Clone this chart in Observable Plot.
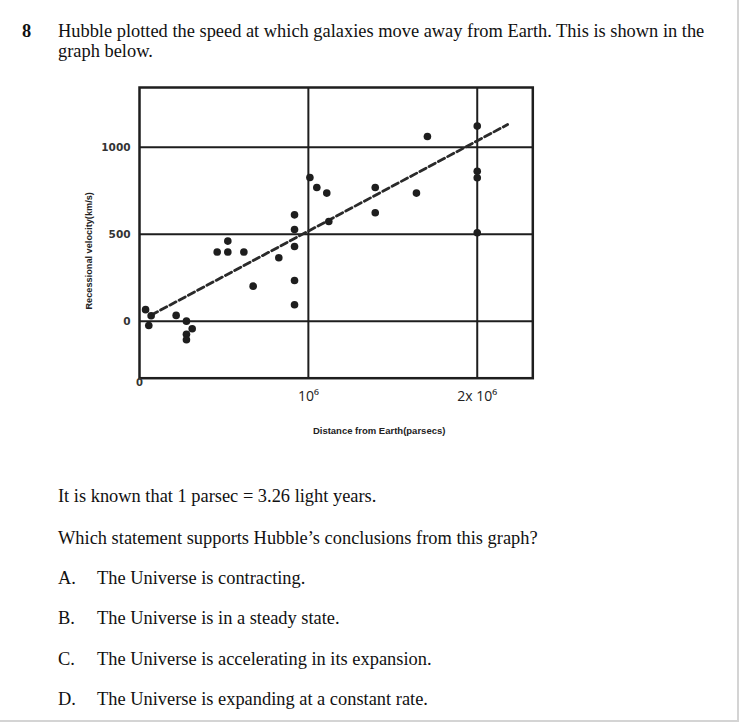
<!DOCTYPE html>
<html>
<head>
<meta charset="utf-8">
<script src="https://cdn.jsdelivr.net/npm/d3@7"></script>
<script src="https://cdn.jsdelivr.net/npm/@observablehq/plot@0.6"></script>
<style>
  html, body { margin: 0; padding: 0; background: #fff; }
  body { width: 740px; height: 723px; position: relative; overflow: hidden; font-family: "Liberation Serif", "Times New Roman", serif; color: #111; }
  .t { position: absolute; font-size: 18.4px; line-height: 20px; white-space: nowrap; }
  #chart { position: absolute; left: 0; top: 60px; }
  #edgeR { position: absolute; left: 737px; top: 0; width: 2px; height: 722px; background: #d4d4d4; }
  #edgeB { position: absolute; left: 0; top: 720px; width: 739px; height: 2px; background: #d4d4d4; }
</style>
</head>
<body>
<div class="t" style="left:22px; top:21px; font-weight:bold;">8</div>
<div class="t" style="left:58px; top:21px;">Hubble plotted the speed at which galaxies move away from Earth. This is shown in the</div>
<div class="t" style="left:58px; top:41px;">graph below.</div>
<div id="chart"></div>
<div class="t" style="left:58px; top:486px;">It is known that 1 parsec = 3.26 light years.</div>
<div class="t" style="left:58px; top:528px;">Which statement supports Hubble’s conclusions from this graph?</div>
<div class="t" style="left:58px; top:568px;">A.</div><div class="t" style="left:97px; top:568px;">The Universe is contracting.</div>
<div class="t" style="left:58px; top:608px;">B.</div><div class="t" style="left:97px; top:608px;">The Universe is in a steady state.</div>
<div class="t" style="left:58px; top:649px;">C.</div><div class="t" style="left:97px; top:649px;">The Universe is accelerating in its expansion.</div>
<div class="t" style="left:58px; top:689px;">D.</div><div class="t" style="left:97px; top:689px;">The Universe is expanding at a constant rate.</div>
<div id="edgeR"></div>
<div id="edgeB"></div>
<script>
// Galaxy distances (parsecs) and recessional velocities (km/s)
const distance = [0.036e6, 0.069e6, 0.055e6, 0.217e6, 0.278e6, 0.312e6, 0.278e6, 0.278e6,
  0.46e6, 0.523e6, 0.523e6, 0.618e6, 0.673e6, 0.825e6,
  0.918e6, 0.918e6, 0.918e6, 0.918e6, 0.918e6,
  1.009e6, 1.05e6, 1.109e6, 1.121e6, 1.396e6, 1.396e6, 1.64e6, 1.705e6,
  2.0e6, 2.0e6, 2.0e6, 2.0e6];
const velocity = [66, 31, -25, 33, 0, -44, -76, -107,
  397, 397, 460, 397, 201, 364,
  611, 527, 429, 234, 94,
  826, 768, 736, 573, 768, 623, 736, 1061,
  1121, 862, 824, 508];

// Best-fit line end points
const fitDistance = [0.07e6, 2.18e6];
const fitVelocity = [35, 1130];

// Grid / ticks
const yTicks = [0, 500, 1000];
const xGrid = [1e6, 2e6];
const xTickValues = [1e6, 2e6];
const xTickLabels = ["10⁶", "2x 10⁶"];
const xZeroLabel = ["0"];
const xTitle = "Distance from Earth(parsecs)";
const yTitle = "Recessional velocity(km/s)";

const points = distance.map((d, i) => ({x: d, y: velocity[i]}));
const fit = fitDistance.map((d, i) => ({x: d, y: fitVelocity[i]}));

const ink = "#1e1e1e";
const chart = Plot.plot({
  width: 740,
  height: 400,
  marginLeft: 139,
  marginRight: 207.7,
  marginTop: 27,
  marginBottom: 82.3,
  x: {domain: [0, 2.329e6], axis: null},
  y: {domain: [-328, 1343], axis: null},
  style: {background: "transparent"},
  marks: [
    Plot.ruleY(yTicks, {stroke: ink, strokeWidth: 2}),
    Plot.ruleX(xGrid, {stroke: ink, strokeWidth: 2}),
    Plot.frame({stroke: ink, strokeWidth: 2.5}),
    Plot.line(fit, {x: "x", y: "y", stroke: "#2a2a2a", strokeWidth: 2.8, strokeDasharray: "7,3.5"}),
    Plot.dot(points, {x: "x", y: "y", r: 3.8, fill: ink, stroke: "none"}),
    Plot.axisY(yTicks, {tickSize: 0, tickPadding: 9, label: null, tickFormat: d => String(d), fontSize: 10.5, fontWeight: "bold", fontFamily: "DejaVu Sans", fill: "#333"}),
    Plot.text(xTickValues, {x: d => d, text: (d, i) => xTickLabels[i], frameAnchor: "bottom", dy: 23, fontSize: 14, fontFamily: "Open Sans", fill: "#222"}),
    Plot.text(xZeroLabel, {x: 0, text: d => d, frameAnchor: "bottom", dy: 8, fontSize: 10, fontWeight: "bold", fontFamily: "DejaVu Sans", fill: "#333"}),
    Plot.text([xTitle], {text: d => d, frameAnchor: "bottom", dx: 43, dy: 56, fontSize: 9.5, fontWeight: "bold", fontFamily: "Liberation Sans", fill: "#222"}),
    Plot.text([yTitle], {text: d => d, frameAnchor: "left", textAnchor: "middle", dx: -50, dy: 18, rotate: -90, fontSize: 9.2, fontWeight: "bold", fontFamily: "Liberation Sans", fill: "#222"})
  ]
});
document.getElementById("chart").appendChild(chart);
</script>
</body>
</html>
